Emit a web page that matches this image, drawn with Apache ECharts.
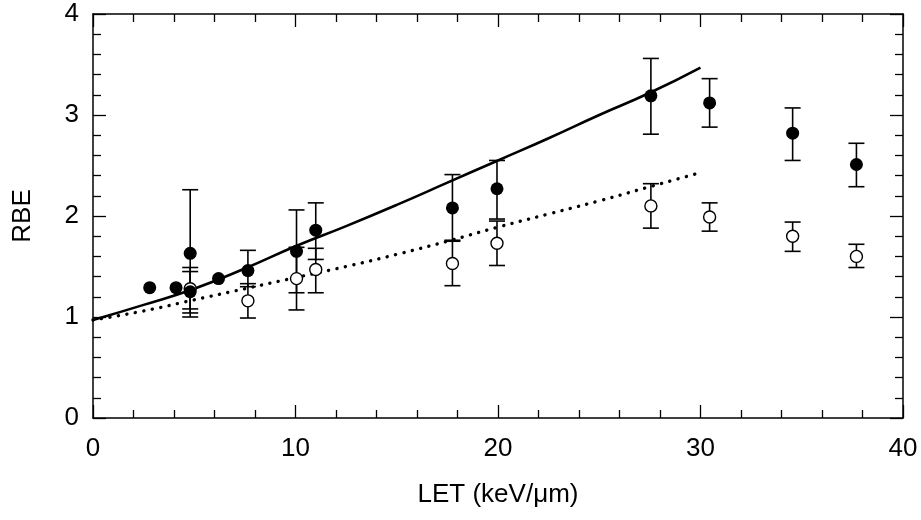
<!DOCTYPE html>
<html>
<head>
<meta charset="utf-8">
<script src="https://cdn.jsdelivr.net/npm/echarts@6/dist/echarts.min.js"></script>
<style>html,body{margin:0;padding:0;background:#fff}#c{width:921px;height:520px}</style>
</head>
<body>
<div id="c"></div>
<script>
// Filled circles (LET, RBE, lower, upper) ; null = no error bar
var filledLET  = [2.8, 4.1, 4.8, 4.8, 6.2, 7.65, 10.05, 11.0, 17.75, 19.95, 27.55, 30.45, 34.55, 37.7];
var filledRBE  = [1.29, 1.29, 1.63, 1.25, 1.38, 1.46, 1.65, 1.86, 2.08, 2.27, 3.19, 3.12, 2.82, 2.51];
var filledLow  = [null, null, 1.00, 1.04, null, 1.30, 1.24, 1.57, 1.76, 1.97, 2.81, 2.88, 2.55, 2.29];
var filledHigh = [null, null, 2.26, 1.45, null, 1.66, 2.06, 2.13, 2.41, 2.55, 3.56, 3.36, 3.07, 2.72];

// Open circles
var openLET  = [4.8, 7.65, 10.05, 11.0, 17.75, 19.95, 27.55, 30.45, 34.55, 37.7];
var openRBE  = [1.28, 1.16, 1.38, 1.47, 1.53, 1.73, 2.10, 1.99, 1.80, 1.60];
var openLow  = [1.08, 0.99, 1.07, 1.24, 1.31, 1.51, 1.88, 1.85, 1.65, 1.49];
var openHigh = [1.49, 1.33, 1.69, 1.68, 1.75, 1.95, 2.32, 2.13, 1.94, 1.72];

// Model curves
var curveLET    = [0, 2.5, 5, 7.5, 10, 12.5, 15, 17.5, 20, 22.5, 25, 27.5, 30];
var solidRBE    = [0.97, 1.12, 1.28, 1.48, 1.70, 1.90, 2.11, 2.33, 2.55, 2.77, 3.00, 3.22, 3.47];
var dottedRBE   = [0.97, 1.06, 1.17, 1.28, 1.39, 1.50, 1.62, 1.75, 1.89, 2.02, 2.15, 2.29, 2.43];

var xTicks = [0, 10, 20, 30, 40];
var yTicks = [0, 1, 2, 3, 4];

function zip(a, b) { return a.map(function (v, i) { return [v, b[i]]; }); }
function errData(x, lo, hi) {
  var out = [];
  x.forEach(function (v, i) { if (lo[i] != null) out.push([v, lo[i], hi[i]]); });
  return out;
}

var font = 'Liberation Sans, Arial, Helvetica, sans-serif';

function errSeries(data) {
  return {
    type: 'custom',
    data: data,
    z: 2,
    renderItem: function (params, api) {
      var x = api.value(0);
      var lo = api.coord([x, api.value(1)]);
      var hi = api.coord([x, api.value(2)]);
      var hw = 8;
      var st = { stroke: '#000', lineWidth: 1.6, fill: null };
      return {
        type: 'group',
        children: [
          { type: 'line', shape: { x1: lo[0], y1: lo[1], x2: hi[0], y2: hi[1] }, style: st },
          { type: 'line', shape: { x1: lo[0] - hw, y1: lo[1], x2: lo[0] + hw, y2: lo[1] }, style: st },
          { type: 'line', shape: { x1: hi[0] - hw, y1: hi[1], x2: hi[0] + hw, y2: hi[1] }, style: st }
        ]
      };
    }
  };
}

function axisCommon() {
  return {
    axisLine: { show: true, onZero: false, lineStyle: { color: '#000', width: 1.5 } },
    axisTick: { show: true, inside: true, length: 13, lineStyle: { color: '#000', width: 1.3 } },
    minorTick: { show: true, splitNumber: 5, length: 8, lineStyle: { color: '#000', width: 1.3 } },
    splitLine: { show: false }
  };
}

var chart = echarts.init(document.getElementById('c'), null, { renderer: 'canvas' });
chart.setOption({
  animation: false,
  backgroundColor: '#fff',
  grid: { left: 93, right: 18, top: 14, bottom: 102 },
  xAxis: [
    Object.assign({
      type: 'value', min: xTicks[0], max: xTicks[xTicks.length - 1], interval: 10, position: 'bottom',
      name: 'LET (keV/\u03bcm)', nameLocation: 'middle', nameGap: 64,
      nameTextStyle: { fontFamily: font, fontSize: 26, color: '#000' },
      axisLabel: { show: true, margin: 18, fontFamily: font, fontSize: 26, color: '#000' }
    }, axisCommon()),
    Object.assign({
      type: 'value', min: xTicks[0], max: xTicks[xTicks.length - 1], interval: 10, position: 'top',
      axisLabel: { show: false }
    }, axisCommon())
  ],
  yAxis: [
    Object.assign({
      type: 'value', min: yTicks[0], max: yTicks[yTicks.length - 1], interval: 1, position: 'left',
      name: 'RBE', nameLocation: 'middle', nameGap: 57, nameRotate: 90,
      nameTextStyle: { fontFamily: font, fontSize: 26, color: '#000' },
      axisLabel: { show: true, margin: 14, fontFamily: font, fontSize: 26, color: '#000' }
    }, axisCommon()),
    Object.assign({
      type: 'value', min: yTicks[0], max: yTicks[yTicks.length - 1], interval: 1, position: 'right',
      axisLabel: { show: false }
    }, axisCommon())
  ],
  series: [
    errSeries(errData(filledLET, filledLow, filledHigh)),
    errSeries(errData(openLET, openLow, openHigh)),
    {
      type: 'line', data: zip(curveLET, solidRBE), smooth: true, showSymbol: false, symbol: 'none', z: 3,
      lineStyle: { color: '#000', width: 2.6 }
    },
    {
      type: 'line', data: zip(curveLET, dottedRBE), smooth: true, showSymbol: false, symbol: 'none', z: 3,
      lineStyle: { color: '#000', width: 3.4, type: [0.1, 8.5], cap: 'round' }
    },
    {
      type: 'scatter', data: zip(openLET, openRBE), symbol: 'circle', symbolSize: 12, z: 4,
      itemStyle: { color: '#fff', borderColor: '#000', borderWidth: 1.4, opacity: 1 }
    },
    {
      type: 'scatter', data: zip(filledLET, filledRBE), symbol: 'circle', symbolSize: 13, z: 5,
      itemStyle: { color: '#000', borderColor: '#000', borderWidth: 0, opacity: 1 }
    }
  ]
});
</script>
</body>
</html>
